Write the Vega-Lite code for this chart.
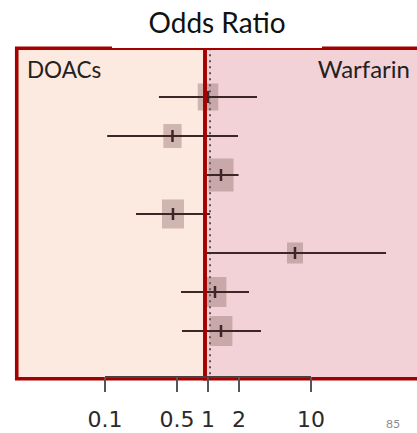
{
  "$schema": "https://vega.github.io/schema/vega-lite/v6.json",
  "width": 417,
  "height": 433,
  "autosize": {"type": "none"},
  "padding": 0,
  "background": "white",
  "config": {"view": {"stroke": null}, "axis": {"disable": true}, "legend": {"disable": true}},
  "datasets": {
    "studies": [
      {"study": 1, "or": 1.0, "lo": 0.334, "hi": 2.99, "weight": 7.29},
      {"study": 2, "or": 0.452, "lo": 0.105, "hi": 1.955, "weight": 5.76},
      {"study": 3, "or": 1.337, "lo": 0.978, "hi": 1.98, "weight": 10.89},
      {"study": 4, "or": 0.457, "lo": 0.2, "hi": 1.046, "weight": 8.41},
      {"study": 5, "or": 6.99, "lo": 0.978, "hi": 53.5, "weight": 4.41},
      {"study": 6, "or": 1.169, "lo": 0.547, "hi": 2.5, "weight": 9.0},
      {"study": 7, "or": 1.337, "lo": 0.559, "hi": 3.27, "weight": 9.0}
    ],
    "ticks": [
      {"v": 0.1, "label": "0.1"},
      {"v": 0.5, "label": "0.5"},
      {"v": 1, "label": "1"},
      {"v": 2, "label": "2"},
      {"v": 10, "label": "10"}
    ],
    "one": [{"k": 1}]
  },
  "layer": [
    {
      "data": {"name": "one"},
      "mark": {"type": "rect", "fill": "#FCE9DF"},
      "encoding": {
        "x": {"datum": 0.0139, "type": "quantitative", "scale": {"type": "log", "domain": [0.009563, 106.9], "nice": false, "zero": false}, "axis": null},
        "x2": {"datum": 0.935},
        "y": {"datum": -0.249, "type": "quantitative", "scale": {"domain": [-1.487, 9.616], "reverse": true, "nice": false, "zero": false}, "axis": null},
        "y2": {"datum": 8.223}
      }
    },
    {
      "data": {"name": "one"},
      "mark": {"type": "rect", "fill": "#F2D2D6"},
      "encoding": {
        "x": {"datum": 0.935, "type": "quantitative"},
        "x2": {"datum": 143},
        "y": {"datum": -0.249, "type": "quantitative"},
        "y2": {"datum": 8.223}
      }
    },
    {
      "data": {"name": "one"},
      "mark": {"type": "rule", "stroke": "#555555", "strokeWidth": 2, "strokeDash": [2, 4]},
      "encoding": {
        "x": {"datum": 1.046, "type": "quantitative"},
        "y": {"datum": -0.249, "type": "quantitative"},
        "y2": {"datum": 8.223}
      }
    },
    {
      "data": {"name": "studies"},
      "mark": {"type": "point", "shape": "M-0.76,-1H0.76V1H-0.76Z", "filled": true, "fill": "#8B6A6A", "fillOpacity": 0.4, "strokeWidth": 0},
      "encoding": {
        "x": {"field": "or", "type": "quantitative"},
        "y": {"field": "study", "type": "quantitative"},
        "size": {"field": "weight", "type": "quantitative", "scale": {"domain": [0, 10], "range": [0, 1000]}, "legend": null}
      }
    },
    {
      "data": {"name": "studies"},
      "mark": {"type": "rule", "stroke": "#3C2626", "strokeWidth": 2},
      "encoding": {
        "x": {"field": "lo", "type": "quantitative"},
        "x2": {"field": "hi"},
        "y": {"field": "study", "type": "quantitative"}
      }
    },
    {
      "data": {"name": "studies"},
      "mark": {"type": "point", "shape": "M0,-1V1", "filled": false, "stroke": "#3C2626", "strokeWidth": 2.5, "size": 144, "opacity": 1},
      "encoding": {
        "x": {"field": "or", "type": "quantitative"},
        "y": {"field": "study", "type": "quantitative"}
      }
    },
    {
      "data": {"name": "one"},
      "mark": {"type": "rect", "fillOpacity": 0, "stroke": "#A50000", "strokeWidth": 3.6},
      "encoding": {
        "x": {"datum": 0.0139, "type": "quantitative"},
        "x2": {"datum": 0.935},
        "y": {"datum": -0.249, "type": "quantitative"},
        "y2": {"datum": 8.223}
      }
    },
    {
      "data": {"name": "one"},
      "mark": {"type": "rect", "fillOpacity": 0, "stroke": "#A50000", "strokeWidth": 3.6},
      "encoding": {
        "x": {"datum": 0.935, "type": "quantitative"},
        "x2": {"datum": 143},
        "y": {"datum": -0.249, "type": "quantitative"},
        "y2": {"datum": 8.223}
      }
    },
    {
      "data": {"name": "one"},
      "mark": {"type": "rect", "fill": "white"},
      "encoding": {
        "x": {"datum": 0.117, "type": "quantitative"},
        "x2": {"datum": 12.79},
        "y": {"datum": -1.615, "type": "quantitative"},
        "y2": {"datum": -0.256}
      }
    },
    {
      "data": {"name": "one"},
      "mark": {"type": "text", "text": "Odds Ratio", "font": "Lato", "fontSize": 28, "fill": "#111111", "align": "center", "baseline": "alphabetic"},
      "encoding": {
        "x": {"datum": 1.223, "type": "quantitative"},
        "y": {"datum": -0.641, "type": "quantitative"}
      }
    },
    {
      "data": {"name": "one"},
      "mark": {"type": "text", "text": "DOACs", "font": "Lato", "fontSize": 22.5, "fill": "#222222", "align": "left", "baseline": "alphabetic"},
      "encoding": {
        "x": {"datum": 0.01749, "type": "quantitative"},
        "y": {"datum": 0.513, "type": "quantitative"}
      }
    },
    {
      "data": {"name": "one"},
      "mark": {"type": "text", "text": "Warfarin", "font": "Lato", "fontSize": 24, "fill": "#222222", "align": "right", "baseline": "alphabetic"},
      "encoding": {
        "x": {"datum": 91.4, "type": "quantitative"},
        "y": {"datum": 0.513, "type": "quantitative"}
      }
    },
    {
      "data": {"name": "one"},
      "mark": {"type": "rule", "stroke": "#4A4040", "strokeWidth": 2},
      "encoding": {
        "x": {"datum": 0.1, "type": "quantitative"},
        "x2": {"datum": 10},
        "y": {"datum": 8.18, "type": "quantitative"}
      }
    },
    {
      "data": {"name": "ticks"},
      "mark": {"type": "rule", "stroke": "#555555", "strokeWidth": 2},
      "encoding": {
        "x": {"field": "v", "type": "quantitative"},
        "y": {"datum": 8.18, "type": "quantitative"},
        "y2": {"datum": 8.564}
      }
    },
    {
      "data": {"name": "ticks"},
      "mark": {"type": "text", "font": "DejaVu Sans", "fontSize": 22, "fill": "#2a2a2a", "align": "center", "baseline": "alphabetic"},
      "encoding": {
        "x": {"field": "v", "type": "quantitative"},
        "y": {"datum": 9.454, "type": "quantitative"},
        "text": {"field": "label"}
      }
    },
    {
      "data": {"name": "one"},
      "mark": {"type": "text", "text": "85", "font": "Lato", "fontSize": 12, "fill": "#8a8a8a", "align": "center", "baseline": "alphabetic"},
      "encoding": {
        "x": {"datum": 62.5, "type": "quantitative"},
        "y": {"datum": 9.48, "type": "quantitative"}
      }
    }
  ]
}
